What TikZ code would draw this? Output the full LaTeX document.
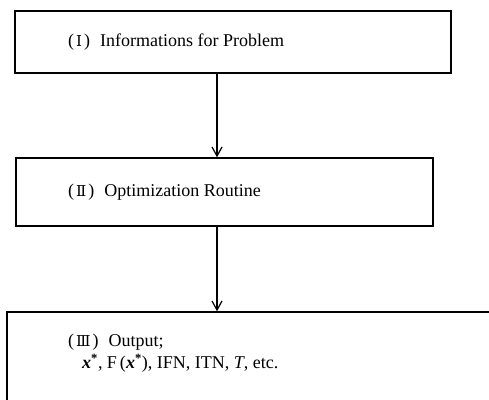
\documentclass[tikz,border=0pt]{standalone}
\usepackage{fontspec}
\setmainfont{Liberation Serif}
\newfontfamily\numfont{DejaVu Serif}
\usetikzlibrary{arrows.meta}
\newcommand{\stagenum}[1]{(\hspace{2pt}{\numfont\fontsize{15}{18}\selectfont #1}\hspace{2pt})\hspace{10pt}}
\tikzset{
  box/.style={draw, line width=1.5pt, rectangle, inner sep=0pt},
  label/.style={anchor=west, inner sep=0pt, font=\fontsize{18}{21}\selectfont},
  arr/.style={line width=1.5pt, -{Straight Barb[length=9pt,width=10pt,line width=1.2pt]}}
}
\begin{document}
\begin{tikzpicture}[x=1pt,y=1pt]
  \useasboundingbox (0,0) rectangle (489,399);
  \clip (0,0) rectangle (489,399);
  % stage boxes
  \node[box, minimum width=436pt, minimum height=62pt] (b1) at (233,357) {};
  \node[box, minimum width=417pt, minimum height=68pt] (b2) at (224.5,207) {};
  \node[box, minimum width=513pt, minimum height=108pt] (b3) at (263.5,33) {};
  % labels
  \node[label] (t1) at (68,357) {\stagenum{Ⅰ}Informations for Problem};
  \node[label] (t2) at (68,207) {\stagenum{Ⅱ}Optimization Routine};
  \node[label] (t3) at (68,57) {\stagenum{Ⅲ}Output;};
  \node[label] (t4) at (82,36) {{\bfseries\itshape x}\textsuperscript{\bfseries *}, F\,({\bfseries\itshape x}\textsuperscript{\bfseries *}), IFN, ITN, \textit{T}, etc.};
  % flow
  \coordinate (ax) at (217,0);
  \draw[arr] (b1.south -| ax) -- (b2.north -| ax);
  \draw[arr] (b2.south -| ax) -- (b3.north -| ax);
\end{tikzpicture}
\end{document}
